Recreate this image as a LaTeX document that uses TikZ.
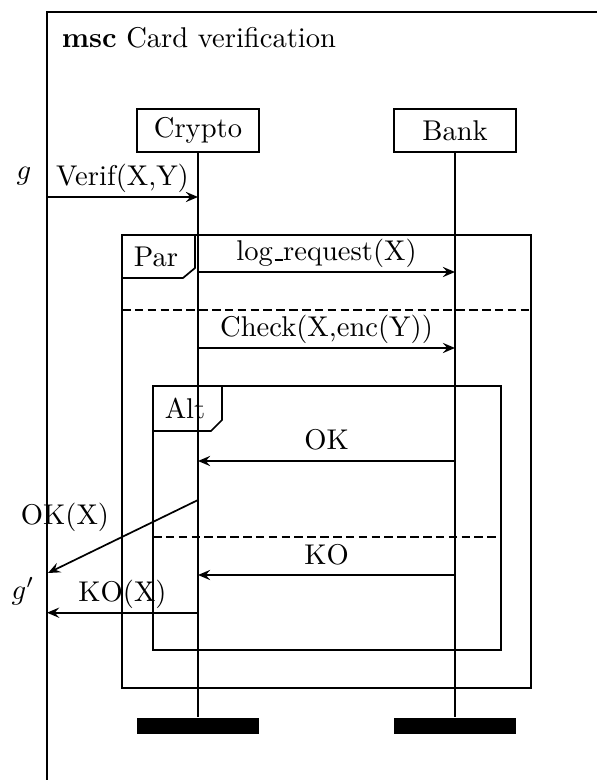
\documentclass[tikz,border=0pt]{standalone}
\usetikzlibrary{arrows.meta}
\begin{document}
\begin{tikzpicture}[x=0.35pt,y=-0.35pt, line width=0.6pt,
  box/.style={draw, minimum width=42.7pt, minimum height=15pt, inner sep=0pt},
  endbar/.style={fill=black, minimum width=42.7pt, minimum height=5.6pt, inner sep=0pt},
  msg/.style={-{Stealth[length=4.3pt,width=3.6pt,inset=1.6pt]}},
  lbl/.style={anchor=base, inner sep=0pt},
  sep/.style={dash pattern=on 3pt off 1.5pt}]
\useasboundingbox (0,0) rectangle (597,780);
% frame
\draw (47,780) -- (47,12) -- (597,12);
\node[lbl, anchor=base west] (title) at (61,48) {\textbf{msc} Card verification};
% instances
\node[box] (crypto) at (198,130.5) {Crypto};
\node[box] (bank) at (455,130.5) {Bank};
\node[endbar] (cend) at (198,726) {};
\node[endbar] (bend) at (455,726) {};
\draw (crypto) -- (cend);
\draw (bank) -- (bend);
% par frame
\draw (122,235) rectangle (531,688);
\draw (122,278) -- (183,278) -- (195,268) -- (195,235);
\node[lbl] (par) at (156,266.5) {Par};
\draw[sep] (122,310) -- (531,310);
% alt frame
\draw (153,386) rectangle (500.7,650);
\draw (153,431) -- (211,431) -- (222,420) -- (222,386);
\node[lbl] (alt) at (185,419) {Alt};
\draw[sep] (153,537) -- (500.7,537);
% coordinates
\coordinate (gin) at (47,197);
\coordinate (c1) at (198,197);
\coordinate (c2) at (198,272);
\coordinate (b2) at (455,272);
\coordinate (c3) at (198,348);
\coordinate (b3) at (455,348);
\coordinate (b4) at (455,461);
\coordinate (c4) at (198,461);
\coordinate (c5) at (198,500);
\coordinate (gout1) at (48,573);
\coordinate (b6) at (455,575);
\coordinate (c6) at (198,575);
\coordinate (c7) at (198,612.7);
\coordinate (gout2) at (47,612.7);
% messages
\draw[msg] (gin) -- (c1);
\node[lbl] (m1) at (122.5,186) {Verif(X,Y)};
\node[lbl] (g) at (24,180) {$g$};
\draw[msg] (c2) -- (b2);
\node[lbl] (m2) at (326.5,261) {log\kern.06em\rule{0.3em}{0.6pt}request(X)};
\draw[msg] (c3) -- (b3);
\node[lbl] (m3) at (326.5,337) {Check(X,enc(Y))};
\draw[msg] (b4) -- (c4);
\node[lbl] (m4) at (326.5,450) {OK};
\draw[msg] (c5) -- (gout1);
\node[lbl] (m5) at (65,524) {OK(X)};
\draw[msg] (b6) -- (c6);
\node[lbl] (m6) at (326.5,564) {KO};
\draw[msg] (c7) -- (gout2);
\node[lbl] (m7) at (122.5,601.7) {KO(X)};
\node[lbl] (gp) at (23,599) {$g'$};
\end{tikzpicture}
\end{document}
